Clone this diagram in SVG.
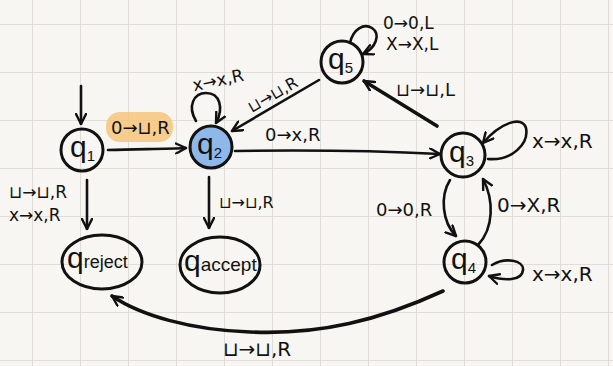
<svg xmlns="http://www.w3.org/2000/svg" width="613" height="366" viewBox="0 0 613 366">
  <defs>
    <pattern id="grid" patternUnits="userSpaceOnUse" x="32" y="24" width="48" height="48">
      <path d="M0,0 H48 M0,0 V48" fill="none" stroke="#d9d6d0" stroke-width="1.6"/>
    </pattern>
    <marker id="arrow" viewBox="0 0 12 12" refX="11" refY="6" markerWidth="12" markerHeight="12" markerUnits="userSpaceOnUse" orient="auto">
      <path d="M1,1 L11,6 L1,11" fill="none" stroke="#111" stroke-width="2.4" stroke-linecap="round" stroke-linejoin="round"/>
    </marker>
    <style>
      .state { fill: none; stroke: #111; stroke-width: 3; }
      .edge { fill: none; stroke: #111; stroke-width: 2.6; stroke-linecap: round; marker-end: url(#arrow); }
      .bold { stroke-width: 3.6; }
      .q { font-family: "Liberation Sans", "DejaVu Sans", sans-serif; font-size: 30px; fill: #111; }
      .sub { font-size: 15px; }
      .word { font-size: 18px; }
      .lbl { font-family: "DejaVu Sans", sans-serif; font-size: 18px; fill: #111; }
      .s16 { font-size: 16px; }
      .s17 { font-size: 17px; }
      .s20 { font-size: 20px; }
      .mid { text-anchor: middle; }
    </style>
  </defs>

  <!-- paper and grid -->
  <rect width="613" height="366" fill="#f8f6f2"/>
  <rect width="613" height="366" fill="url(#grid)"/>

  <!-- highlight behind the q1 -> q2 label -->
  <rect x="106" y="112" width="67" height="30" rx="14" fill="#f6c67c" opacity="0.85"/>

  <g id="connectors">
    <!-- start -->
    <path class="edge" d="M81,86 L81,124"/>
    <!-- q1 -> q2 -->
    <path class="edge" d="M108,150 C140,149 165,149 186,148"/>
    <!-- q2 self loop -->
    <path class="edge" d="M196,121 C187,106 194,93 206,93 C220,93 224,108 216,123"/>
    <!-- q5 -> q2 -->
    <path class="edge" d="M319,80 L232,131"/>
    <!-- q2 -> q3 -->
    <path class="edge" d="M235,151 C300,150 380,151 440,154"/>
    <!-- q2 -> qaccept -->
    <path class="edge" d="M209,177 L209,228"/>
    <!-- q1 -> qreject -->
    <path class="edge" d="M87,180 L87,229"/>
    <!-- q3 -> q5 -->
    <path class="edge bold" d="M437,126 L364,81"/>
    <!-- q5 self loop -->
    <path class="edge" d="M350,43 C353,29 364,23 372,28 C381,34 376,48 363,54"/>
    <!-- q3 self loop -->
    <path class="edge" d="M488,159 C513,161 529,143 526,128 C522,115 500,123 483,143"/>
    <!-- q3 -> q4 -->
    <path class="edge" d="M450,180 C440,196 442,222 456,236"/>
    <!-- q4 -> q3 -->
    <path class="edge" d="M478,245 C494,228 494,200 483,179"/>
    <!-- q4 self loop -->
    <path class="edge" d="M492,265 C505,257 524,260 523,270 C522,281 505,281 489,276"/>
    <!-- q4 -> qreject -->
    <path class="edge bold" d="M443,291 C380,320 320,335 250,332 C190,330 140,315 112,296"/>
  </g>

  <g id="edge-labels">
    <text class="lbl" x="111" y="134">0→⊔,R</text>
    <text class="lbl s17 mid" x="218" y="86" transform="rotate(-12 218 80)">x→x,R</text>
    <text class="lbl s16 mid" x="273" y="100" transform="rotate(-30 273 95)">⊔→⊔,R</text>
    <text class="lbl" x="265" y="141">0→x,R</text>
    <text class="lbl s16" x="219" y="208">⊔→⊔,R</text>
    <text class="lbl s17" x="9" y="198">⊔→⊔,R</text>
    <text class="lbl s17" x="9" y="221">x→x,R</text>
    <text class="lbl" x="396" y="96">⊔→⊔,L</text>
    <text class="lbl s17" x="383" y="29">0→0,L</text>
    <text class="lbl s17" x="386" y="50">X→X,L</text>
    <text class="lbl s20" x="532" y="148">x→x,R</text>
    <text class="lbl" x="376" y="216">0→0,R</text>
    <text class="lbl s20" x="497" y="212">0→X,R</text>
    <text class="lbl s20" x="532" y="281">x→x,R</text>
    <text class="lbl s20" x="223" y="356">⊔→⊔,R</text>
  </g>

  <g id="q1">
    <circle class="state" cx="82" cy="150" r="21"/>
    <text class="q" x="70" y="157">q<tspan class="sub" dy="4">1</tspan></text>
  </g>
  <g id="q2">
    <circle class="state" cx="211" cy="147" r="21" style="fill:#8fb8ea"/>
    <text class="q" x="197" y="154">q<tspan class="sub" dy="4">2</tspan></text>
  </g>
  <g id="q3">
    <circle class="state" cx="463" cy="155" r="22"/>
    <text class="q" x="449" y="162">q<tspan class="sub" dy="4">3</tspan></text>
  </g>
  <g id="q4">
    <circle class="state" cx="465" cy="262" r="21"/>
    <text class="q" x="451" y="269">q<tspan class="sub" dy="4">4</tspan></text>
  </g>
  <g id="q5">
    <circle class="state" cx="342" cy="62" r="21"/>
    <text class="q" x="328" y="69">q<tspan class="sub" dy="4">5</tspan></text>
  </g>
  <g id="qreject">
    <ellipse class="state" cx="102" cy="262" rx="40" ry="27"/>
    <text class="q" x="67" y="268">q<tspan class="word">reject</tspan></text>
  </g>
  <g id="qaccept">
    <ellipse class="state" cx="220" cy="265" rx="40" ry="28"/>
    <text class="q" x="184" y="271">q<tspan class="word" style="font-size:19px">accept</tspan></text>
  </g>
</svg>
